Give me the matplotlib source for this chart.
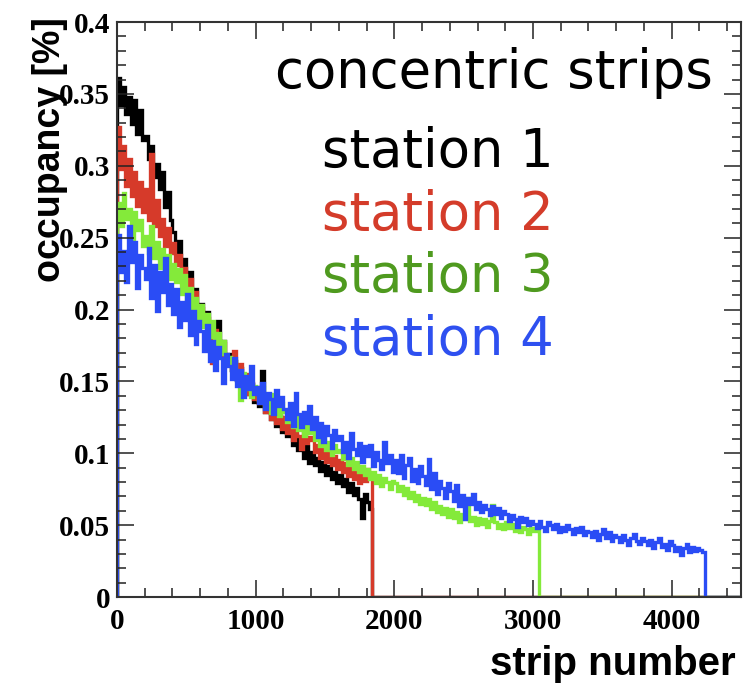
import matplotlib.pyplot as plt
import numpy as np
from matplotlib.ticker import MultipleLocator

# occupancy per 20-strip bin
bin_width = 20
x_max = 4500

station1 = [0.361, 0.342, 0.355, 0.336, 0.348, 0.329, 0.346, 0.322, 0.339, 0.318,
            0.321, 0.305, 0.314, 0.292, 0.301, 0.284, 0.296, 0.271, 0.282, 0.262,
            0.254, 0.239, 0.248, 0.228, 0.235, 0.219, 0.226, 0.208, 0.214, 0.199,
            0.204, 0.191, 0.198, 0.183, 0.189, 0.176, 0.192, 0.171, 0.178, 0.165,
            0.169, 0.158, 0.164, 0.151, 0.159, 0.146, 0.153, 0.141, 0.148, 0.136,
            0.143, 0.133, 0.157, 0.129, 0.136, 0.124, 0.131, 0.119, 0.126, 0.115,
            0.121, 0.112, 0.118, 0.106, 0.113, 0.102, 0.109, 0.097, 0.105, 0.093,
            0.101, 0.092, 0.097, 0.088, 0.094, 0.085, 0.091, 0.082, 0.087, 0.079,
            0.085, 0.077, 0.082, 0.073, 0.079, 0.071, 0.076, 0.068, 0.055, 0.072,
            0.066, 0.061]

station2 = [0.327, 0.298, 0.314, 0.286, 0.305, 0.279, 0.296, 0.272, 0.289, 0.268,
            0.284, 0.262, 0.308, 0.258, 0.276, 0.251, 0.263, 0.244, 0.257, 0.239,
            0.246, 0.231, 0.238, 0.222, 0.229, 0.213, 0.221, 0.204, 0.212, 0.197,
            0.201, 0.189, 0.194, 0.181, 0.163, 0.186, 0.175, 0.168, 0.177, 0.162,
            0.167, 0.158, 0.171, 0.152, 0.162, 0.147, 0.155, 0.141, 0.149, 0.138,
            0.146, 0.135, 0.141, 0.129, 0.137, 0.124, 0.132, 0.121, 0.128, 0.117,
            0.125, 0.114, 0.121, 0.109, 0.126, 0.112, 0.103, 0.116, 0.107, 0.111,
            0.109, 0.101, 0.106, 0.097, 0.103, 0.094, 0.101, 0.092, 0.098, 0.089,
            0.095, 0.087, 0.093, 0.084, 0.091, 0.082, 0.088, 0.079, 0.086, 0.081,
            0.089, 0.084]

station3 = [0.274, 0.258, 0.281, 0.263, 0.270, 0.249, 0.268, 0.255, 0.262, 0.244,
            0.251, 0.239, 0.258, 0.236, 0.247, 0.229, 0.242, 0.226, 0.238, 0.221,
            0.232, 0.219, 0.228, 0.211, 0.224, 0.206, 0.215, 0.199, 0.208, 0.194,
            0.203, 0.188, 0.197, 0.181, 0.192, 0.176, 0.184, 0.169, 0.178, 0.163,
            0.167, 0.158, 0.164, 0.151, 0.137, 0.156, 0.145, 0.152, 0.139, 0.147,
            0.143, 0.137, 0.146, 0.132, 0.139, 0.128, 0.141, 0.134, 0.126, 0.135,
            0.129, 0.122, 0.131, 0.118, 0.125, 0.116, 0.123, 0.112, 0.119, 0.114,
            0.116, 0.109, 0.113, 0.105, 0.111, 0.102, 0.108, 0.099, 0.106, 0.101,
            0.102, 0.096, 0.099, 0.092, 0.097, 0.089, 0.094, 0.087, 0.091, 0.085,
            0.089, 0.082, 0.087, 0.079, 0.085, 0.077, 0.083, 0.080, 0.075, 0.081,
            0.079, 0.074, 0.077, 0.071, 0.076, 0.069, 0.073, 0.067, 0.071, 0.065,
            0.069, 0.064, 0.068, 0.061, 0.066, 0.059, 0.063, 0.058, 0.062, 0.056,
            0.061, 0.055, 0.059, 0.052, 0.058, 0.054, 0.069, 0.053, 0.056, 0.050,
            0.055, 0.051, 0.054, 0.049, 0.053, 0.064, 0.052, 0.048, 0.051, 0.047,
            0.052, 0.048, 0.051, 0.046, 0.050, 0.045, 0.049, 0.047, 0.044, 0.048,
            0.046, 0.049]

station4 = [0.252, 0.226, 0.241, 0.219, 0.258, 0.233, 0.247, 0.215, 0.238, 0.229,
            0.221, 0.243, 0.208, 0.231, 0.199, 0.226, 0.212, 0.236, 0.203, 0.218,
            0.197, 0.214, 0.188, 0.205, 0.193, 0.211, 0.182, 0.199, 0.176, 0.192,
            0.185, 0.171, 0.189, 0.164, 0.178, 0.158, 0.174, 0.166, 0.149, 0.169,
            0.161, 0.152, 0.166, 0.147, 0.158, 0.139, 0.154, 0.145, 0.161, 0.141,
            0.146, 0.135, 0.149, 0.131, 0.142, 0.138, 0.127, 0.144, 0.133, 0.139,
            0.131, 0.124, 0.135, 0.119, 0.142, 0.127, 0.118, 0.129, 0.121, 0.133,
            0.117, 0.125, 0.111, 0.121, 0.108, 0.119, 0.113, 0.104, 0.116, 0.109,
            0.112, 0.101, 0.108, 0.097, 0.114, 0.103, 0.099, 0.107, 0.094, 0.105,
            0.098, 0.106, 0.091, 0.101, 0.095, 0.089, 0.108, 0.093, 0.099, 0.087,
            0.095, 0.086, 0.099, 0.083, 0.092, 0.097, 0.081, 0.089, 0.079, 0.091,
            0.084, 0.078, 0.096, 0.075, 0.086, 0.072, 0.081, 0.076, 0.069, 0.079,
            0.074, 0.067, 0.078, 0.063, 0.071, 0.054, 0.069, 0.065, 0.072, 0.061,
            0.066, 0.059, 0.064, 0.061, 0.057, 0.063, 0.058, 0.062, 0.055, 0.060,
            0.058, 0.053, 0.057, 0.054, 0.049, 0.056, 0.052, 0.055, 0.050, 0.053,
            0.051, 0.048, 0.053, 0.049, 0.046, 0.052, 0.050, 0.047, 0.051, 0.045,
            0.049, 0.046, 0.050, 0.047, 0.044, 0.048, 0.045, 0.049, 0.043, 0.046,
            0.045, 0.042, 0.046, 0.040, 0.044, 0.047, 0.041, 0.045, 0.039, 0.043,
            0.042, 0.038, 0.043, 0.040, 0.036, 0.041, 0.044, 0.039, 0.037, 0.041,
            0.039, 0.036, 0.040, 0.034, 0.038, 0.041, 0.035, 0.037, 0.033, 0.039,
            0.036, 0.032, 0.035, 0.029, 0.034, 0.037, 0.031, 0.035, 0.032, 0.034,
            0.033, 0.031]

labels = ['station 1', 'station 2', 'station 3', 'station 4']
line_colors = ['#000000', '#d63a2a', '#84ea3a', '#2a4cf5']
text_colors = ['#000000', '#d43c2a', '#4f9a1f', '#2e50f0']

fig = plt.figure(figsize=(7.43, 6.86), dpi=100)
ax = fig.add_axes([0.1575, 0.1297, 0.8398, 0.8382])

for vals, col in zip([station1, station2, station3, station4], line_colors):
    v = np.append(vals, 0.0)
    edges = np.append(np.arange(len(v)) * bin_width, x_max)
    ax.stairs(v, edges, color=col, lw=2.4)

ax.set_xlim(0, x_max)
ax.set_ylim(0, 0.4)
ax.xaxis.set_major_locator(MultipleLocator(1000))
ax.xaxis.set_minor_locator(MultipleLocator(200))
ax.yaxis.set_minor_locator(MultipleLocator(0.01))
ax.tick_params(which='both', direction='in', top=True, right=True, width=1.1, color='#222222')
ax.tick_params(which='major', length=12)
ax.tick_params(which='minor', length=6.5)
ax.tick_params(axis='x', pad=8)
ax.tick_params(axis='y', pad=5)
ax.set_yticks([0, 0.05, 0.1, 0.15, 0.2, 0.25, 0.3, 0.35, 0.4])
ax.set_yticklabels(['0', '0.05', '0.1', '0.15', '0.2', '0.25', '0.3', '0.35', '0.4'])
for lab in ax.get_xticklabels() + ax.get_yticklabels():
    lab.set_fontfamily('Liberation Serif')
    lab.set_fontweight('bold')
    lab.set_fontsize(21)
for sp in ax.spines.values():
    sp.set_linewidth(1.5)
    sp.set_color('#333333')

fig.text(0.067, 0.975, 'occupancy [%]', rotation=90, ha='center', va='top',
         fontsize=27, fontweight='bold', family='Liberation Sans')
fig.text(0.99, 0.004, 'strip number', ha='right', va='bottom',
         fontsize=29, fontweight='bold', family='Liberation Sans')

fig.text(275 / 743, 1 - 88 / 686, 'concentric strips', ha='left', va='baseline',
         fontsize=38, family='DejaVu Sans')
for i, (lab, col) in enumerate(zip(labels, text_colors)):
    fig.text(322 / 743, 1 - (167 + 62.5 * i) / 686, lab, ha='left', va='baseline',
             fontsize=38, family='DejaVu Sans', color=col)

fig.savefig('out.png', dpi=100)
